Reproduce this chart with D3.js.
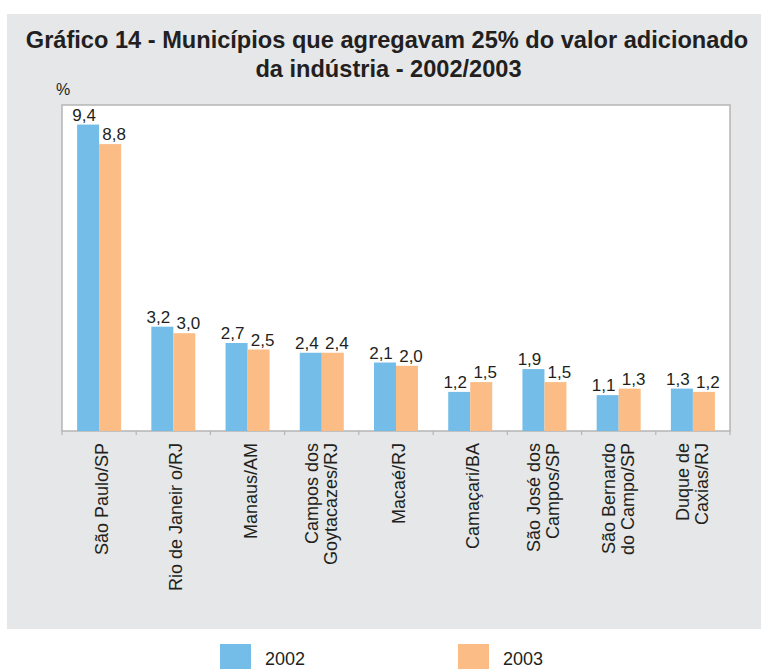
<!DOCTYPE html>
<html>
<head>
<meta charset="utf-8">
<script src="https://cdn.jsdelivr.net/npm/d3@7"></script>
<style>
  body { margin: 0; background: #fff; }
  svg { display: block; font-family: "Liberation Sans", Arial, sans-serif; }
</style>
</head>
<body>
<div id="main"></div>
<script>
// data
const cities = [
  ['São Paulo/SP'],
  ['Rio de Janeir o/RJ'],
  ['Manaus/AM'],
  ['Campos dos', 'Goytacazes/RJ'],
  ['Macaé/RJ'],
  ['Camaçari/BA'],
  ['São José dos', 'Campos/SP'],
  ['São Bernardo', 'do Campo/SP'],
  ['Duque de', 'Caxias/RJ']
];
const years = ['2002', '2003'];
const v2002 = [9.4, 3.2, 2.7, 2.4, 2.1, 1.2, 1.9, 1.1, 1.3];
const v2003 = [8.8, 3.0, 2.5, 2.4, 2.0, 1.5, 1.5, 1.3, 1.2];
const colors = ['#74bde8', '#fbbc86'];

const width = 761, height = 669;
const ink = '#231f20';
const svg = d3.select('#main').append('svg').attr('width', width).attr('height', height);

// grey panel
svg.append('rect').attr('x', 7).attr('y', 14).attr('width', width - 7).attr('height', 615).attr('fill', '#e6e7e8');

// title
svg.append('text').attr('x', 387).attr('y', 48).attr('text-anchor', 'middle')
  .attr('font-weight', 'bold').attr('font-size', 23.6).attr('fill', ink)
  .text('Gráfico 14 - Municípios que agregavam 25% do valor adicionado');
svg.append('text').attr('x', 388.5).attr('y', 77).attr('text-anchor', 'middle')
  .attr('font-weight', 'bold').attr('font-size', 23.6).attr('fill', ink)
  .text('da indústria - 2002/2003');

svg.append('text').attr('x', 56).attr('y', 95).attr('font-size', 16).attr('fill', ink).text('%');

const x0 = d3.scaleBand().domain(d3.range(cities.length)).range([62, 730]);
const x1 = d3.scaleBand().domain(years).range([-22, 22]);
const y = d3.scaleLinear().domain([0, 10]).range([431, 105]);

// plot frame
svg.append('rect').attr('x', 62).attr('y', 105).attr('width', 668).attr('height', 326)
  .attr('fill', '#fff').attr('stroke', '#b5b5b5').attr('stroke-width', 1.5);

// ticks at category boundaries
svg.append('g').selectAll('line').data(d3.range(cities.length + 1)).join('line')
  .attr('x1', i => 62 + i * x0.step()).attr('x2', i => 62 + i * x0.step())
  .attr('y1', 431).attr('y2', 435).attr('stroke', '#b5b5b5').attr('stroke-width', 1.2);

const rows = cities.map((c, i) => ({i, vals: [v2002[i], v2003[i]]}));
const groups = svg.append('g').selectAll('g').data(rows).join('g')
  .attr('transform', d => `translate(${x0(d.i) + x0.bandwidth() / 2},0)`);

groups.selectAll('rect').data(d => d.vals.map((v, k) => ({v, k}))).join('rect')
  .attr('x', d => x1(years[d.k])).attr('width', x1.bandwidth())
  .attr('y', d => y(d.v)).attr('height', d => y(0) - y(d.v))
  .attr('fill', d => colors[d.k]);

// value labels, nudged apart like in the original
groups.selectAll('text.val').data(d => d.vals.map((v, k) => ({v, k}))).join('text')
  .attr('class', 'val')
  .attr('x', d => x1(years[d.k]) + x1.bandwidth() / 2 + (d.k === 0 ? -4 : 4))
  .attr('y', d => y(d.v) - 4)
  .attr('text-anchor', 'middle').attr('font-size', 17).attr('fill', ink)
  .text(d => d.v.toFixed(1).replace('.', ','));

// rotated category labels
groups.each(function(d) {
  const lines = cities[d.i];
  const n = lines.length;
  lines.forEach((t, j) => {
    const off = n === 1 ? 9 : 15 - (n - 1 - j) * 19;
    d3.select(this).append('text')
      .attr('transform', `translate(${off},443) rotate(-90)`)
      .attr('text-anchor', 'end').attr('font-size', 18).attr('fill', ink)
      .text(t);
  });
});

// legend
const legend = svg.append('g');
const lx = [220, 458];
years.forEach((yr, k) => {
  legend.append('rect').attr('x', lx[k]).attr('y', 644).attr('width', 31).attr('height', 30).attr('fill', colors[k]);
  legend.append('text').attr('x', lx[k] + 45).attr('y', 665).attr('font-size', 18).attr('fill', ink).text(yr);
});
</script>
</body>
</html>
